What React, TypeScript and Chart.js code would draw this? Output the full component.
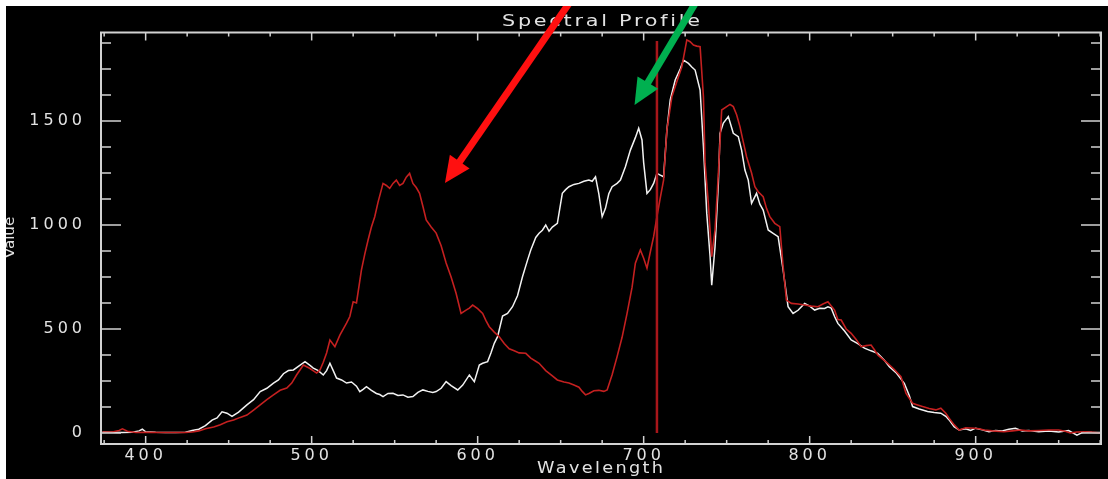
import React, { useEffect, useRef } from "react";
import { Chart, registerables } from "chart.js";

Chart.register(...registerables);

// ---- data (wavelength in nm, value) ----
const whiteWl = [374, 380, 386, 392, 396, 398, 400, 406, 412, 418, 424, 428, 432, 436, 440, 443, 446, 449, 452, 456, 461, 465, 469, 473, 477, 480, 483, 486, 489, 492, 496, 499, 501, 504, 507, 509, 511, 513, 515, 518, 521, 524, 527, 529, 531, 533, 536, 539, 541, 543, 546, 549, 552, 555, 558, 561, 564, 567, 570, 573, 575, 578, 581, 584, 588, 591, 595, 598, 601, 603, 606, 608, 610, 612, 615, 618, 621, 624, 627, 630, 632, 635, 637, 639, 641, 643, 645, 648, 651, 653, 655, 658, 661, 664, 667, 669, 671, 673, 675, 677, 679, 681, 684, 686, 689, 692, 695, 697, 699, 700, 702, 704, 706, 708, 710, 712, 714, 716, 719, 722, 724, 727, 729, 731, 734, 736, 738, 740, 741, 743, 745, 746, 748, 751, 754, 757, 759, 761, 763, 765, 768, 770, 772, 775, 778, 781, 784, 787, 790, 793, 797, 800, 803, 806, 809, 811, 813, 815, 817, 821, 825, 829, 833, 837, 841, 845, 848, 852, 857, 860, 862, 866, 871, 875, 879, 882, 884, 887, 890, 894, 897, 900, 904, 908, 912, 916, 920, 924, 928, 932, 938, 944, 950, 956, 961, 965, 970, 975];
const whiteVal = [5, 3, 2, 4, 10, 18, 6, 3, 2, 2, 4, 12, 18, 35, 62, 72, 102, 95, 80, 100, 135, 160, 199, 215, 240, 255, 285, 300, 303, 320, 343, 325, 312, 300, 279, 300, 335, 300, 264, 255, 240, 245, 225, 199, 210, 223, 205, 190, 185, 175, 190, 191, 180, 183, 172, 175, 195, 207, 200, 195, 199, 215, 247, 228, 207, 230, 279, 247, 327, 335, 343, 384, 431, 463, 562, 575, 607, 660, 751, 830, 880, 940, 960, 975, 1000, 970, 990, 1008, 1152, 1170, 1184, 1195, 1200, 1210, 1216, 1210, 1232, 1150, 1040, 1080, 1150, 1184, 1200, 1216, 1280, 1360, 1420, 1465, 1409, 1300, 1152, 1170, 1200, 1248, 1240, 1232, 1457, 1601, 1697, 1750, 1793, 1777, 1760, 1745, 1649, 1377, 1057, 850, 710, 896, 1200, 1441, 1490, 1521, 1441, 1425, 1360, 1264, 1216, 1104, 1152, 1100, 1072, 976, 960, 944, 784, 607, 575, 590, 623, 610, 591, 600, 599, 607, 600, 560, 527, 490, 447, 430, 408, 395, 383, 350, 319, 290, 239, 180, 127, 115, 103, 98, 95, 80, 63, 30, 14, 20, 12, 23, 15, 6, 12, 10, 18, 23, 10, 12, 6, 10, 5, 12, -10, 5, 3, 2];

const redWl = [374, 380, 384, 386, 389, 394, 400, 408, 416, 424, 428, 432, 436, 441, 445, 449, 453, 457, 461, 465, 469, 473, 477, 481, 485, 488, 491, 495, 499, 503, 505, 507, 509, 511, 514, 517, 521, 523, 525, 527, 530, 532, 534, 536, 538, 540, 543, 545, 547, 549, 551, 553, 555, 557, 559, 561, 563, 565, 567, 569, 572, 575, 578, 581, 584, 587, 590, 593, 595, 597, 600, 603, 605, 607, 610, 613, 616, 619, 622, 625, 629, 632, 635, 637, 641, 645, 648, 652, 655, 658, 661, 663, 665, 667, 670, 673, 676, 678, 681, 684, 687, 690, 693, 695, 698, 700, 702, 704, 706, 708, 710, 712, 714, 717, 720, 723, 726, 728, 730, 732, 734, 736, 737, 739, 740, 741, 743, 745, 747, 750, 752, 754, 756, 758, 760, 762, 765, 767, 769, 772, 774, 776, 779, 782, 784, 786, 789, 793, 797, 801, 805, 808, 811, 813, 815, 817, 819, 822, 825, 828, 831, 834, 837, 839, 841, 844, 847, 851, 855, 858, 862, 865, 868, 872, 876, 879, 882, 884, 887, 890, 894, 899, 902, 905, 910, 917, 922, 927, 932, 938, 944, 950, 954, 957, 961, 966, 971, 975];
const redVal = [5, 5, 12, 20, 8, 2, 3, 2, 2, 2, 5, 10, 20, 29, 40, 54, 62, 75, 86, 110, 135, 160, 183, 205, 216, 240, 280, 327, 310, 288, 303, 340, 385, 447, 415, 470, 528, 560, 631, 625, 784, 860, 928, 990, 1040, 1110, 1200, 1190, 1176, 1200, 1216, 1190, 1200, 1230, 1248, 1200, 1180, 1152, 1090, 1024, 990, 961, 900, 817, 750, 672, 575, 591, 600, 615, 598, 575, 540, 511, 485, 463, 430, 405, 395, 385, 383, 360, 345, 335, 300, 275, 255, 245, 240, 231, 220, 200, 183, 190, 203, 205, 200, 207, 280, 367, 460, 575, 700, 816, 880, 840, 792, 870, 944, 1040, 1130, 1216, 1457, 1617, 1690, 1761, 1890, 1881, 1865, 1860, 1857, 1617, 1296, 1100, 976, 848, 976, 1248, 1553, 1569, 1580, 1569, 1530, 1473, 1400, 1328, 1250, 1184, 1160, 1136, 1080, 1040, 1008, 992, 800, 639, 623, 620, 615, 610, 607, 620, 631, 610, 591, 545, 543, 500, 479, 450, 415, 420, 423, 400, 375, 355, 335, 305, 271, 191, 143, 135, 127, 118, 111, 119, 95, 71, 40, 14, 25, 23, 20, 14, 10, 6, 10, 14, 10, 12, 14, 14, 8, 0, 5, 6, 3, 0];

// vertical marker line
const markerWl = 708;
const markerTop = 1885;

// axes
const xRange = [373.1, 975.5];
const yRange = [-53, 1925.5];
const xTickValues = [400, 500, 600, 700, 800, 900];
const yTickValues = [0, 500, 1000, 1500];
const xMinorStep = 25;
const yMinorStep = 125;

// texts
const titleText = "Spectral Profile";
const xTitleText = "Wavelength";
const yTitleText = "Value";

// annotation arrows (data coordinates: wavelength, value)
const arrowColors = ["#ff1010", "#00b050"];
const arrowFrom = [[658, 2100], [733.6, 2100]];
const arrowTo = [[580.3, 1202], [694.5, 1577]];

const FONT = "'DejaVu Sans', 'Liberation Sans', sans-serif";
const TEXT = "#e2e2e2";
const TICK_SPACING = 4;

function drawStretched(ctx, text, cx, by, size, spacing, targetW, rot = 0) {
  ctx.save();
  ctx.font = `${size}px ${FONT}`;
  ctx.letterSpacing = `${spacing}px`;
  const w = ctx.measureText(text).width - spacing;
  const s = targetW / w;
  ctx.translate(cx, by);
  if (rot) ctx.rotate(rot);
  ctx.scale(s, 1);
  ctx.textAlign = "left";
  ctx.textBaseline = "alphabetic";
  ctx.fillStyle = TEXT;
  ctx.fillText(text, -w / 2, 0);
  ctx.restore();
}

const framePlugin = {
  id: "idlFrame",
  beforeDraw(chart) {
    chart.ctx.letterSpacing = `${TICK_SPACING}px`;
  },
  afterDraw(chart) {
    const { ctx, chartArea: a } = chart;
    const x = chart.scales.x;
    const y = chart.scales.y;
    ctx.save();
    ctx.letterSpacing = "0px";
    ctx.strokeStyle = "#d2d2d2";
    ctx.lineWidth = 2;
    ctx.strokeRect(a.left, a.top, a.right - a.left, a.bottom - a.top);
    ctx.lineWidth = 1.5;
    ctx.beginPath();
    for (let v = Math.ceil(xRange[0] / xMinorStep) * xMinorStep; v <= xRange[1]; v += xMinorStep) {
      const px = x.getPixelForValue(v);
      const len = xTickValues.includes(v) ? 8 : 4;
      ctx.moveTo(px, a.bottom);
      ctx.lineTo(px, a.bottom - len);
      ctx.moveTo(px, a.top);
      ctx.lineTo(px, a.top + len);
    }
    for (let v = 0; v <= yRange[1]; v += yMinorStep) {
      const py = y.getPixelForValue(v);
      const len = yTickValues.includes(v) ? 20 : 10;
      ctx.moveTo(a.left, py);
      ctx.lineTo(a.left + len, py);
      ctx.moveTo(a.right, py);
      ctx.lineTo(a.right - len, py);
    }
    ctx.stroke();

    const cx = (a.left + a.right) / 2;
    drawStretched(ctx, titleText, cx, a.top - 7, 15, 2, 198);
    drawStretched(ctx, xTitleText, cx - 1, a.bottom + 28.5, 15, 2, 126);
    drawStretched(ctx, yTitleText, 8, 231.5, 14, 0, 41.5, -Math.PI / 2);

    // arrows
    for (let i = 0; i < arrowColors.length; i++) {
      const x0 = x.getPixelForValue(arrowFrom[i][0]);
      const y0 = y.getPixelForValue(arrowFrom[i][1]);
      const x1 = x.getPixelForValue(arrowTo[i][0]);
      const y1 = y.getPixelForValue(arrowTo[i][1]);
      const dx = x1 - x0;
      const dy = y1 - y0;
      const L = Math.hypot(dx, dy);
      const ux = dx / L;
      const uy = dy / L;
      const headLen = 26;
      const headHalf = 12;
      const bx = x1 - ux * headLen;
      const by = y1 - uy * headLen;
      ctx.strokeStyle = arrowColors[i];
      ctx.fillStyle = arrowColors[i];
      ctx.lineWidth = 7;
      ctx.lineCap = "butt";
      ctx.beginPath();
      ctx.moveTo(x0, y0);
      ctx.lineTo(bx + ux * 2, by + uy * 2);
      ctx.stroke();
      ctx.beginPath();
      ctx.moveTo(x1, y1);
      ctx.lineTo(bx - uy * headHalf, by + ux * headHalf);
      ctx.lineTo(bx + uy * headHalf, by - ux * headHalf);
      ctx.closePath();
      ctx.fill();
    }
    ctx.restore();
    ctx.letterSpacing = "0px";
  },
};

export default function App() {
  const ref = useRef(null);
  useEffect(() => {
    const canvas = ref.current;
    const toPts = (wl, vals) => wl.map((w, i) => ({ x: w, y: vals[i] }));
    const chart = new Chart(canvas, {
      type: "line",
      data: {
        datasets: [
          {
            label: "marker",
            data: [
              { x: markerWl, y: 0 },
              { x: markerWl, y: markerTop },
            ],
            borderColor: "#a8161a",
            borderWidth: 2.5,
            pointRadius: 0,
          },
          {
            label: "red",
            data: toPts(redWl, redVal),
            borderColor: "#c42020",
            borderWidth: 1.6,
            pointRadius: 0,
            tension: 0,
          },
          {
            label: "white",
            data: toPts(whiteWl, whiteVal),
            borderColor: "#f2f2f2",
            borderWidth: 1.5,
            pointRadius: 0,
            tension: 0,
          },
        ],
      },
      options: {
        animation: false,
        responsive: false,
        devicePixelRatio: 1,
        layout: { padding: { top: 26.5, right: 7, left: 0, bottom: 0 } },
        plugins: { legend: { display: false }, tooltip: { enabled: false }, title: { display: false } },
        scales: {
          x: {
            type: "linear",
            min: xRange[0],
            max: xRange[1],
            afterBuildTicks: (s) => {
              s.ticks = xTickValues.map((v) => ({ value: v }));
            },
            afterFit: (s) => {
              s.height = 35;
            },
            grid: { display: false },
            border: { display: false },
            ticks: {
              color: TEXT,
              font: { family: FONT, size: 16 },
              padding: -6,
              maxRotation: 0,
              autoSkip: false,
              callback: (v) => String(v),
            },
          },
          y: {
            type: "linear",
            min: yRange[0],
            max: yRange[1],
            afterBuildTicks: (s) => {
              s.ticks = yTickValues.map((v) => ({ value: v }));
            },
            afterFit: (s) => {
              s.width = 95;
            },
            grid: { display: false },
            border: { display: false },
            ticks: {
              color: TEXT,
              font: { family: FONT, size: 16 },
              padding: 7,
              autoSkip: false,
              callback: (v) => String(v),
            },
          },
        },
      },
      plugins: [framePlugin],
    });
    return () => chart.destroy();
  }, []);

  return (
    <div
      style={{
        position: "fixed",
        left: 6,
        top: 6,
        width: 1102,
        height: 473,
        background: "#000",
        overflow: "hidden",
      }}
    >
      <canvas ref={ref} width={1102} height={473} style={{ display: "block", width: 1102, height: 473 }} />
    </div>
  );
}
